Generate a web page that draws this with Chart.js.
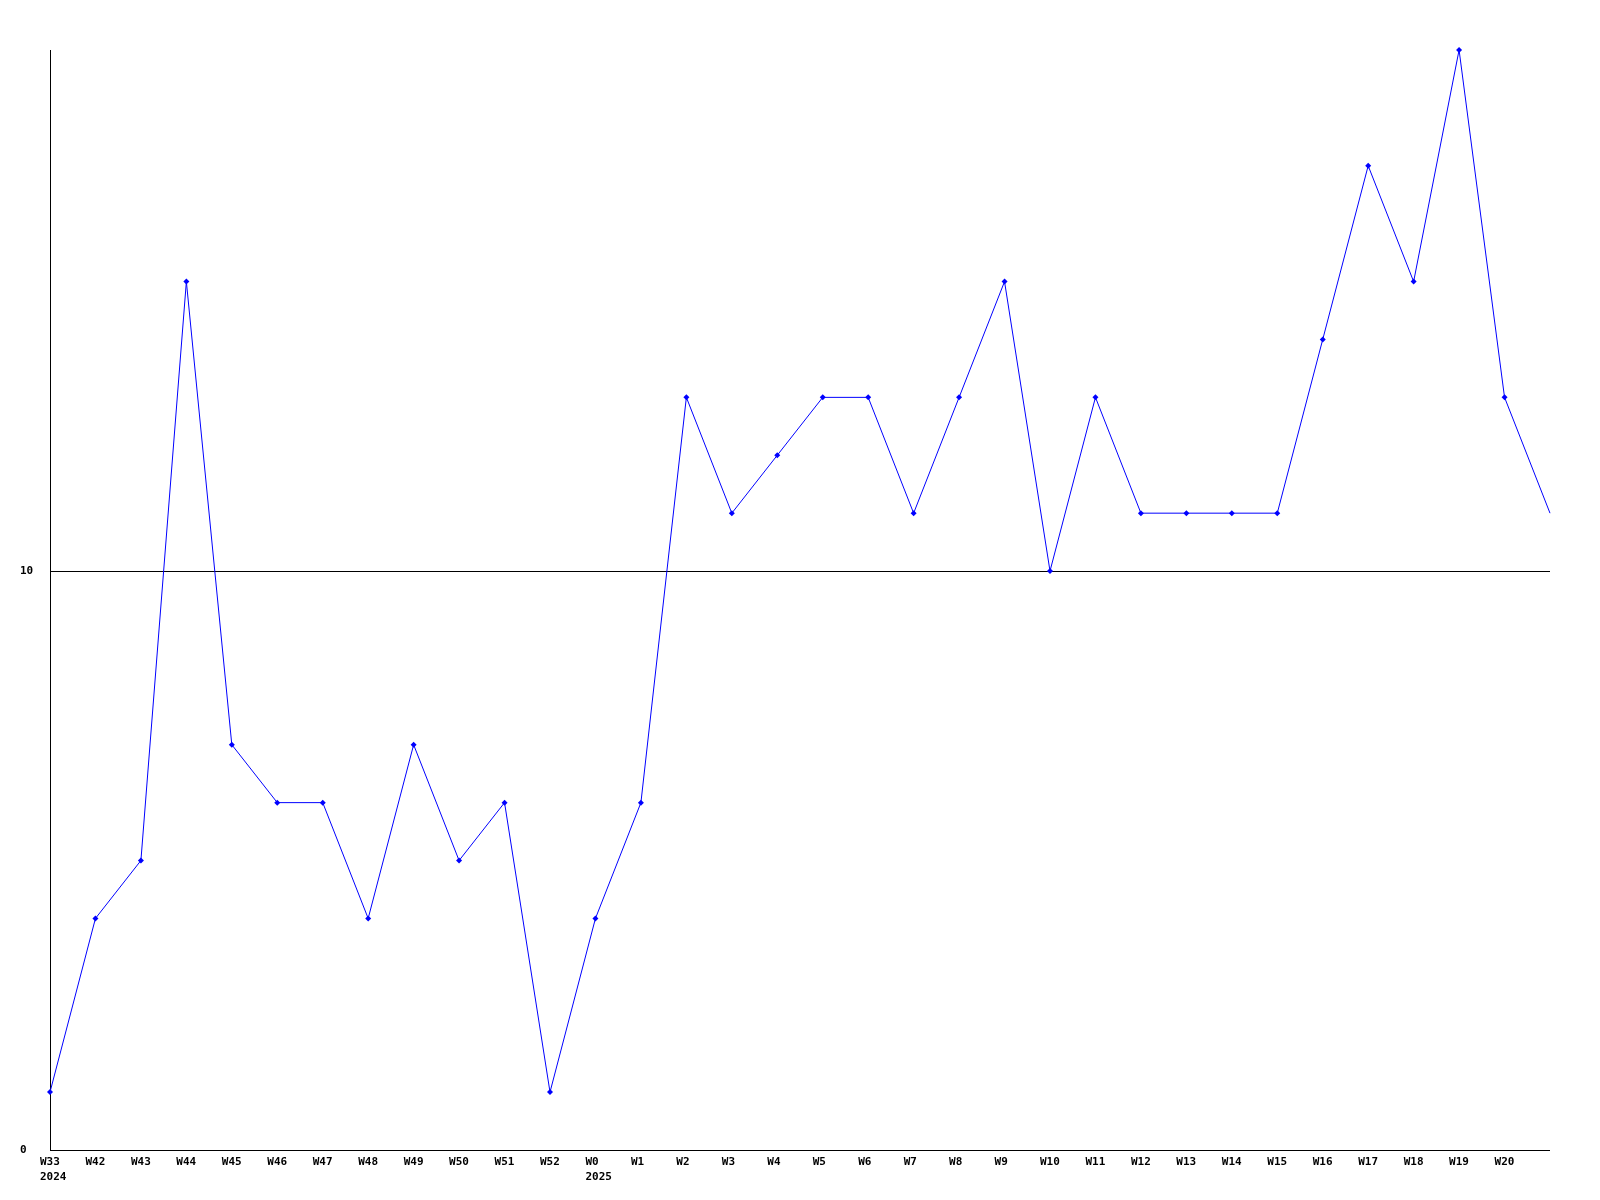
<!DOCTYPE html>
<html>
<head>
<meta charset="utf-8">
<title>Weekly chart</title>
<script src="https://cdn.jsdelivr.net/npm/chart.js@4.4.1/dist/chart.umd.min.js"></script>
<style>
  html, body { margin: 0; padding: 0; background: #fff; }
  canvas { display: block; }
</style>
</head>
<body>
<canvas id="weekChart" width="1600" height="1200"></canvas>
<script>
// semanas (a última não tem rótulo)
const weeks = ['W33', 'W42', 'W43', 'W44', 'W45', 'W46', 'W47', 'W48', 'W49', 'W50', 'W51', 'W52',
               'W0', 'W1', 'W2', 'W3', 'W4', 'W5', 'W6', 'W7', 'W8', 'W9', 'W10', 'W11', 'W12',
               'W13', 'W14', 'W15', 'W16', 'W17', 'W18', 'W19', 'W20', ''];
const years = { 'W33': '2024', 'W0': '2025' };
const counts = [1, 4, 5, 15, 7, 6, 6, 4, 7, 5, 6, 1,
                4, 6, 13, 11, 12, 13, 13, 11, 13, 15, 10, 13, 11,
                11, 11, 11, 14, 17, 15, 19, 13, 11];
const yTicks = [0, 10];
const yMax = 19;

const labelFont = 'bold 11px "DejaVu Sans Mono", "Liberation Mono", monospace';

// eixos e rótulos desenhados à mão, mas usando as escalas do Chart.js
const axesPlugin = {
    id: 'axesPlugin',
    beforeDatasetsDraw(chart) {
        const { ctx, chartArea, scales } = chart;
        const x = scales.x, y = scales.y;
        ctx.save();
        ctx.strokeStyle = '#000';
        ctx.lineWidth = 1;
        // linha de grade em 10
        yTicks.forEach(v => {
            if (v === 0) return;
            const py = Math.round(y.getPixelForValue(v)) + 0.5;
            ctx.beginPath();
            ctx.moveTo(chartArea.left, py);
            ctx.lineTo(chartArea.right, py);
            ctx.stroke();
        });
        // eixo y
        const ax = Math.round(chartArea.left) + 0.5;
        ctx.beginPath();
        ctx.moveTo(ax, chartArea.top);
        ctx.lineTo(ax, chartArea.bottom);
        ctx.stroke();
        // eixo x
        const ay = Math.round(y.getPixelForValue(0)) + 0.5;
        ctx.beginPath();
        ctx.moveTo(chartArea.left, ay);
        ctx.lineTo(chartArea.right, ay);
        ctx.stroke();

        ctx.fillStyle = '#000';
        ctx.font = labelFont;
        ctx.textAlign = 'left';
        ctx.textBaseline = 'middle';
        yTicks.forEach(v => {
            ctx.fillText(String(v), 20, y.getPixelForValue(v));
        });
        weeks.forEach((w, i) => {
            if (!w) return;
            const px = x.getPixelForValue(i) - 10;
            ctx.fillText(w, px, ay + 12);
            if (years[w]) ctx.fillText(years[w], px, ay + 27);
        });
        ctx.restore();
    }
};

const ctx = document.getElementById('weekChart').getContext('2d');
new Chart(ctx, {
    type: 'line',
    data: {
        labels: weeks,
        datasets: [{
            data: counts,
            borderColor: '#0000ff',
            backgroundColor: '#0000ff',
            borderWidth: 1,
            tension: 0,
            pointStyle: 'rectRot',
            pointRadius: counts.map((v, i) => i === counts.length - 1 ? 0 : 3),
            pointBorderWidth: 0,
            clip: false
        }]
    },
    options: {
        responsive: false,
        animation: false,
        devicePixelRatio: 1,
        layout: { padding: { left: 50, right: 50, top: 50, bottom: 50 } },
        plugins: {
            legend: { display: false },
            tooltip: { enabled: false }
        },
        scales: {
            x: { display: false, offset: false },
            y: { display: false, min: 0, max: yMax }
        }
    },
    plugins: [axesPlugin]
});
</script>
</body>
</html>
